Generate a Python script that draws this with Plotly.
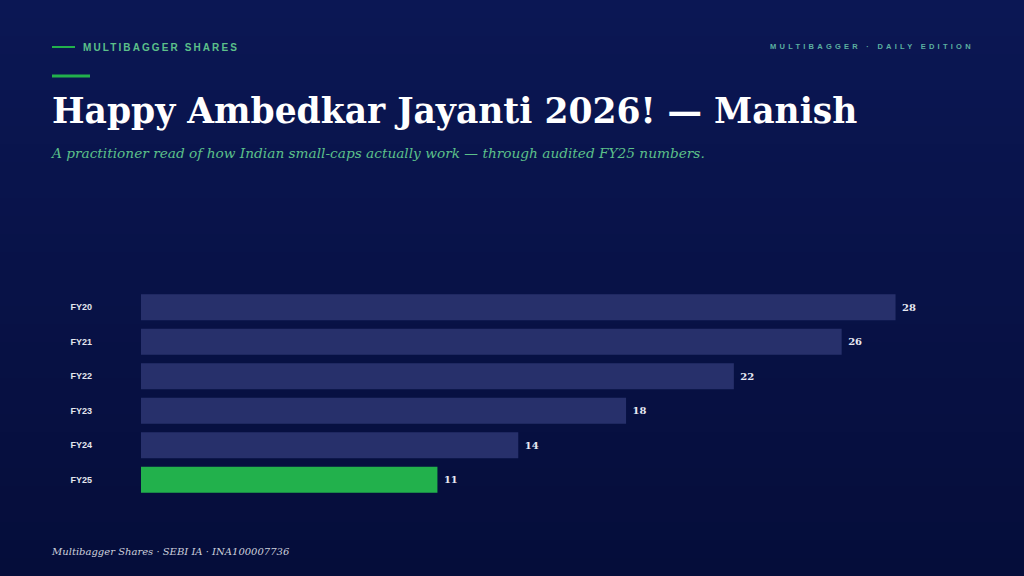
import plotly.graph_objects as go

categories = ["FY20", "FY21", "FY22", "FY23", "FY24", "FY25"]
values = [28, 26, 22, 18, 14, 11]
highlight = "FY25"

BAR = "#27306b"
GREEN = "#22b14c"
colors = [GREEN if c == highlight else BAR for c in categories]

fig = go.Figure(go.Bar(
    x=values, y=categories, orientation="h",
    marker=dict(color=colors, line=dict(width=0)),
    texttemplate="<b>&nbsp;%{x}</b>", textposition="outside",
    textfont=dict(family="DejaVu Serif", size=10, color="#e6e8f2"),
    cliponaxis=False, hoverinfo="skip",
))

W, H = 1024, 576
L, R, T, B = 141, 53, 290, 79
pw, ph = W - L - R, H - T - B

def px(x):
    return (x - L) / pw

def py(y):
    return (H - B - y) / ph

# background gradient
shapes = []
n = 32
top = (11, 23, 84)
bot = (5, 13, 58)
for i in range(n):
    t = i / (n - 1)
    c = tuple(round(top[k] + (bot[k] - top[k]) * t) for k in range(3))
    shapes.append(dict(type="rect", xref="paper", yref="paper",
                       x0=px(-5), x1=px(W + 5), y0=py(H * (i + 1) / n + 1), y1=py(H * i / n),
                       fillcolor="rgb(%d,%d,%d)" % c, line=dict(width=0), layer="below"))

shapes.append(dict(type="line", xref="paper", yref="paper",
                   x0=px(52), x1=px(75), y0=py(47), y1=py(47),
                   line=dict(color=GREEN, width=2)))
shapes.append(dict(type="line", xref="paper", yref="paper",
                   x0=px(52), x1=px(90), y0=py(76), y1=py(76),
                   line=dict(color=GREEN, width=3)))

annotations = [
    dict(text="<b>MULTIBAGGER SHARES</b>", x=px(81), y=py(47), xanchor="left", yanchor="middle",
         align="left",
         font=dict(family="Liberation Sans", size=10, color="#5cc08a")),
    dict(text="<b>MULTIBAGGER · DAILY EDITION</b>", x=px(768), y=py(46), xanchor="left", yanchor="middle",
         align="left",
         font=dict(family="Liberation Sans", size=7.5, color="#5cb0a0")),
    dict(text="<b>Happy Ambedkar Jayanti 2026! — Manish</b>", x=px(50), y=py(111), xanchor="left",
         yanchor="middle", font=dict(family="DejaVu Serif", size=34.5, color="#ffffff")),
    dict(text="<i>A practitioner read of how Indian small-caps actually work — through audited FY25 numbers.</i>",
         x=px(48), y=py(153), xanchor="left", yanchor="middle",
         font=dict(family="DejaVu Serif", size=13.7, color="#5cc08a")),
    dict(text="<i>Multibagger Shares · SEBI IA · INA100007736</i>", x=px(49), y=py(551), xanchor="left",
         yanchor="middle", font=dict(family="DejaVu Serif", size=10, color="#cdd0dc")),
]
for a in annotations:
    a.update(xref="paper", yref="paper", showarrow=False)

fig.update_layout(
    width=W, height=H,
    margin=dict(l=L, r=R, t=T, b=B, autoexpand=False),
    paper_bgcolor="#08124a", plot_bgcolor="rgba(0,0,0,0)",
    bargap=0.25, showlegend=False,
    shapes=shapes, annotations=annotations,
    xaxis=dict(range=[0, 30.8], visible=False, fixedrange=True),
    yaxis=dict(autorange="reversed", showgrid=False, zeroline=False, showline=False,
               ticks="", ticklabelstandoff=48,
               tickfont=dict(family="Liberation Sans", size=9, color="#e4e6ee"),
               fixedrange=True),
)
fig.update_yaxes(tickprefix="<b>", ticksuffix="</b>")

post = """
document.body.style.margin='0';
document.body.style.padding='0';
document.body.style.overflow='hidden';
document.querySelectorAll('.annotation-text').forEach(function(t){
  var s = t.textContent;
  if (s === 'MULTIBAGGER SHARES') { t.style.letterSpacing = '2.1px'; }
  if (s.indexOf('DAILY EDITION') >= 0) { t.style.letterSpacing = '3.25px'; }
});
"""

fig.write_html("out.html", config={"displayModeBar": False}, post_script=post)
